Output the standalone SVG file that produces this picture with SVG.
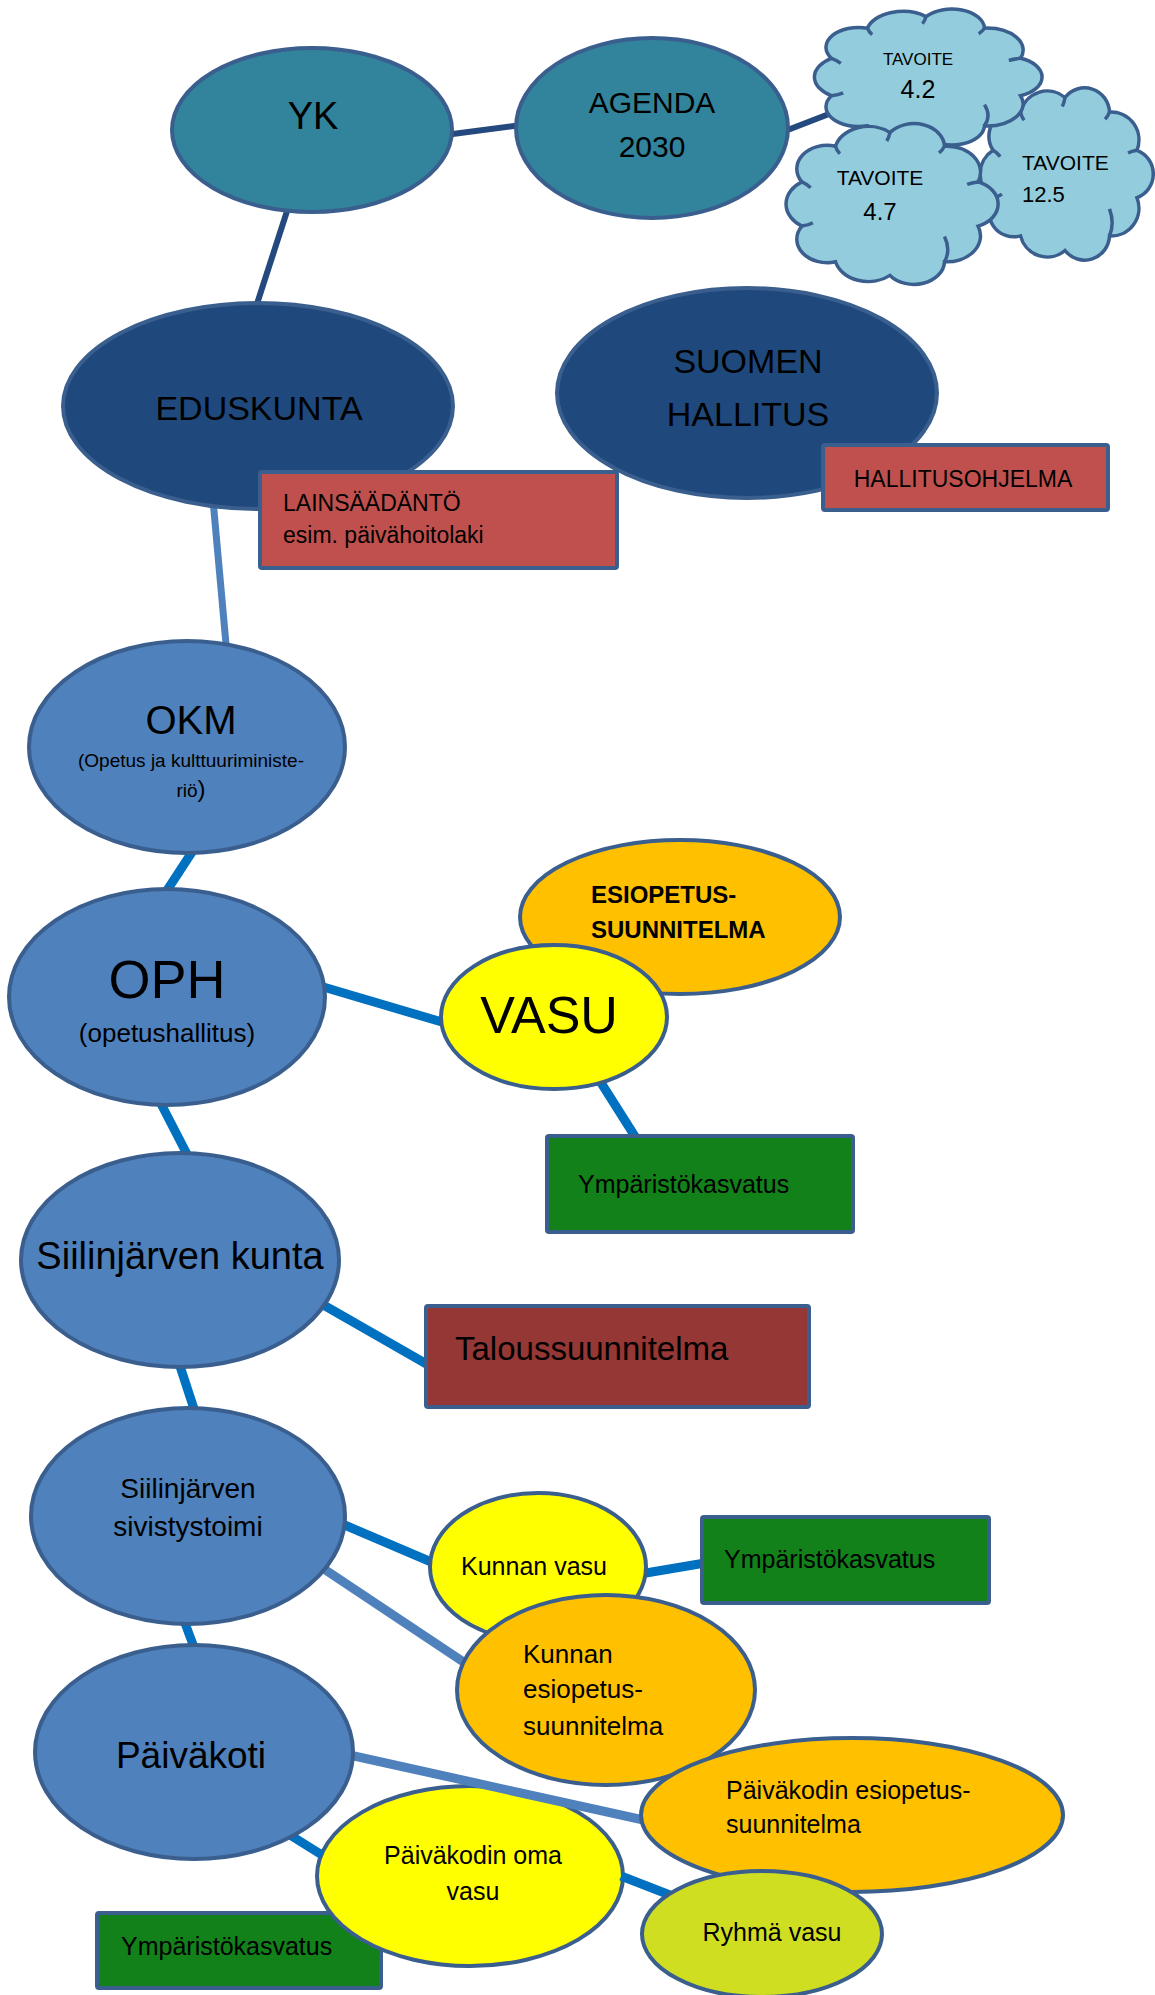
<svg xmlns="http://www.w3.org/2000/svg" xmlns:xlink="http://www.w3.org/1999/xlink" width="1155" height="1995" viewBox="0 0 1155 1995">
<style>
text{font-family:"Liberation Sans",Arial,sans-serif;fill:#000}
.n{stroke:#3A5F8E;stroke-width:4}
.teal{fill:#31849B}
.navy{fill:#1F497D}
.mid{fill:#4F81BD}
.yel{fill:#FFFF00}
.ora{fill:#FFC000}
.red{fill:#C0504D}
.dred{fill:#953735}
.grn{fill:#12811A}
.lime{fill:#D0DE22}
.cloud{fill:#93CDDD;stroke:#3A5F8E;stroke-width:3.5}
.cd{stroke:#24497E;stroke-width:6}
.cm{stroke:#4F81BD;stroke-width:9}
.cb{stroke:#0070C0;stroke-width:9}
.mid-t{text-anchor:middle}
</style>
<defs>
<g id="cloudShape">
<path vector-effect="non-scaling-stroke" d="M -80.8,-26.3 A 28 28 0 0 1 -50,-68.8 A 31 31 0 0 1 0,-85 A 28 28 0 0 1 50,-68.8 A 31 31 0 0 1 80.8,-26.3 A 28 28 0 0 1 80.8,26.3 A 31 31 0 0 1 50,68.8 A 28 28 0 0 1 0,85 A 31 31 0 0 1 -50,68.8 A 28 28 0 0 1 -80.8,26.3 A 31 31 0 0 1 -80.8,-26.3 Z"/>
<path vector-effect="non-scaling-stroke" fill="none" d="M -50,-68.8 q 1,5 4,9 M 0,-85 q -1,6 -3,10 M 50,-68.8 q -2,5 -5,8 M 80.8,-26.3 q -6,1 -10,3 M 50,68.8 q 6,-14 0,-30 M -80.8,26.3 q 6,-1 10,-4 M -80.8,-26.3 q 5,3 8,7"/>
</g>
</defs>
<rect width="1155" height="1995" fill="#FFFFFF"/>

<g id="node-ymparisto3">
<rect class="n grn" x="97" y="1913" width="284" height="75" rx="2"/>
<text x="121" y="1955" font-size="25">Ympäristökasvatus</text>
</g>
<g id="node-paivakodin-oma-vasu">
<ellipse class="n yel" cx="470" cy="1876" rx="153" ry="90"/>
<text class="mid-t" x="473" y="1864" font-size="25">Päiväkodin oma</text>
<text class="mid-t" x="473" y="1900" font-size="25">vasu</text>
</g>

<g id="connectors" fill="none">
<line class="cd" x1="445" y1="135" x2="522" y2="125"/>
<line class="cd" x1="785" y1="131" x2="829" y2="114"/>
<line class="cd" x1="289" y1="205" x2="255" y2="310"/>
<line class="cm" style="stroke-width:7" x1="213" y1="500" x2="227" y2="655"/>
<line class="cb" x1="196" y1="846" x2="162" y2="898"/>
<line class="cb" x1="320" y1="986" x2="452" y2="1025"/>
<line class="cb" x1="598" y1="1078" x2="636" y2="1138"/>
<line class="cb" x1="158" y1="1098" x2="190" y2="1160"/>
<line class="cb" x1="320" y1="1303" x2="430" y2="1366"/>
<line class="cb" x1="178" y1="1360" x2="195" y2="1412"/>
<line class="cb" x1="340" y1="1523" x2="436" y2="1564"/>
<line class="cm" x1="318" y1="1565" x2="465" y2="1663"/>
<line class="cb" x1="640" y1="1574" x2="705" y2="1563"/>
<line class="cb" x1="182" y1="1615" x2="195" y2="1650"/>
<line class="cm" x1="345" y1="1754" x2="648" y2="1821"/>
<line class="cb" x1="290" y1="1835" x2="322" y2="1855"/>
<line class="cb" x1="621" y1="1876" x2="675" y2="1897"/>
</g>

<g id="node-tavoite-12-5">
<use xlink:href="#cloudShape" class="cloud" transform="translate(1065,174) scale(0.89,0.9)"/>
<text x="1022" y="170" font-size="21">TAVOITE</text>
<text x="1022" y="202" font-size="22">12.5</text>
</g>
<g id="node-tavoite-4-2">
<use xlink:href="#cloudShape" class="cloud" transform="translate(926,77) scale(1.17,0.71)"/>
<text class="mid-t" x="918" y="65" font-size="17">TAVOITE</text>
<text class="mid-t" x="918" y="98" font-size="25">4.2</text>
</g>
<g id="node-tavoite-4-7">
<use xlink:href="#cloudShape" class="cloud" transform="translate(890,204) scale(1.09,0.84)"/>
<text class="mid-t" x="880" y="185" font-size="21">TAVOITE</text>
<text class="mid-t" x="880" y="220" font-size="24">4.7</text>
</g>

<g id="node-yk">
<ellipse class="n teal" cx="312" cy="130" rx="140" ry="82"/>
<text class="mid-t" x="313" y="129" font-size="38">YK</text>
</g>
<g id="node-agenda">
<ellipse class="n teal" cx="652" cy="128" rx="136" ry="90"/>
<text class="mid-t" x="652" y="113" font-size="30">AGENDA</text>
<text class="mid-t" x="652" y="157" font-size="30">2030</text>
</g>
<g id="node-eduskunta">
<ellipse class="n navy" cx="258" cy="406" rx="195" ry="103"/>
<text class="mid-t" x="259" y="420" font-size="34">EDUSKUNTA</text>
</g>
<g id="node-lainsaadanto">
<rect class="n red" x="260" y="472" width="357" height="96" rx="2"/>
<text x="283" y="511" font-size="23">LAINSÄÄDÄNTÖ</text>
<text x="283" y="543" font-size="23">esim. päivähoitolaki</text>
</g>
<g id="node-suomen-hallitus">
<ellipse class="n navy" cx="747" cy="393" rx="190" ry="105"/>
<text class="mid-t" x="748" y="373" font-size="34">SUOMEN</text>
<text class="mid-t" x="748" y="426" font-size="34">HALLITUS</text>
</g>
<g id="node-hallitusohjelma">
<rect class="n red" x="823" y="445" width="285" height="65" rx="2"/>
<text class="mid-t" x="963" y="487" font-size="23">HALLITUSOHJELMA</text>
</g>
<g id="node-okm">
<ellipse class="n mid" cx="187" cy="747" rx="158" ry="106"/>
<text class="mid-t" x="191" y="734" font-size="40">OKM</text>
<text class="mid-t" x="191" y="767" font-size="19">(Opetus ja kulttuuriministe-</text>
<text class="mid-t" x="191" y="797" font-size="19">riö<tspan font-size="24">)</tspan></text>
</g>
<g id="node-oph">
<ellipse class="n mid" cx="167" cy="997" rx="158" ry="108"/>
<text class="mid-t" x="167" y="998" font-size="54">OPH</text>
<text class="mid-t" x="167" y="1042" font-size="26">(opetushallitus)</text>
</g>
<g id="node-esiopetussuunnitelma">
<ellipse class="n ora" cx="680" cy="917" rx="160" ry="77"/>
<text x="591" y="903" font-size="24" font-weight="bold">ESIOPETUS-</text>
<text x="591" y="938" font-size="24" font-weight="bold">SUUNNITELMA</text>
</g>
<g id="node-vasu">
<ellipse class="n yel" cx="554" cy="1017" rx="113" ry="72"/>
<text class="mid-t" x="549" y="1033" font-size="52">VASU</text>
</g>
<g id="node-ymparisto1">
<rect class="n grn" x="547" y="1136" width="306" height="96" rx="2"/>
<text x="578" y="1193" font-size="25">Ympäristökasvatus</text>
</g>
<g id="node-siilinjarven-kunta">
<ellipse class="n mid" cx="180" cy="1260" rx="159" ry="107"/>
<text class="mid-t" x="180" y="1269" font-size="38">Siilinjärven kunta</text>
</g>
<g id="node-taloussuunnitelma">
<rect class="n dred" x="426" y="1306" width="383" height="101" rx="2"/>
<text x="455" y="1360" font-size="33">Taloussuunnitelma</text>
</g>
<g id="node-sivistystoimi">
<ellipse class="n mid" cx="188" cy="1516" rx="157" ry="108"/>
<text class="mid-t" x="188" y="1498" font-size="28">Siilinjärven</text>
<text class="mid-t" x="188" y="1536" font-size="28">sivistystoimi</text>
</g>
<g id="node-kunnan-vasu">
<ellipse class="n yel" cx="538" cy="1567" rx="108" ry="74"/>
<text class="mid-t" x="534" y="1575" font-size="25">Kunnan vasu</text>
</g>
<g id="node-kunnan-esiopetus">
<ellipse class="n ora" cx="606" cy="1690" rx="149" ry="95"/>
<text x="523" y="1663" font-size="26">Kunnan</text>
<text x="523" y="1698" font-size="26">esiopetus-</text>
<text x="523" y="1735" font-size="26">suunnitelma</text>
</g>
<g id="node-ymparisto2">
<rect class="n grn" x="702" y="1517" width="287" height="86" rx="2"/>
<text x="724" y="1568" font-size="25">Ympäristökasvatus</text>
</g>
<g id="node-paivakoti">
<ellipse class="n mid" cx="194" cy="1752" rx="159" ry="107"/>
<text class="mid-t" x="191" y="1768" font-size="37">Päiväkoti</text>
</g>
<g id="node-paivakodin-esiopetus">
<ellipse class="n ora" cx="852" cy="1815" rx="211" ry="77"/>
<text x="726" y="1799" font-size="25">Päiväkodin esiopetus-</text>
<text x="726" y="1833" font-size="25">suunnitelma</text>
</g>
<g id="node-ryhma-vasu">
<ellipse class="n lime" cx="762" cy="1934" rx="120" ry="63"/>
<text class="mid-t" x="772" y="1941" font-size="25">Ryhmä vasu</text>
</g>
</svg>
